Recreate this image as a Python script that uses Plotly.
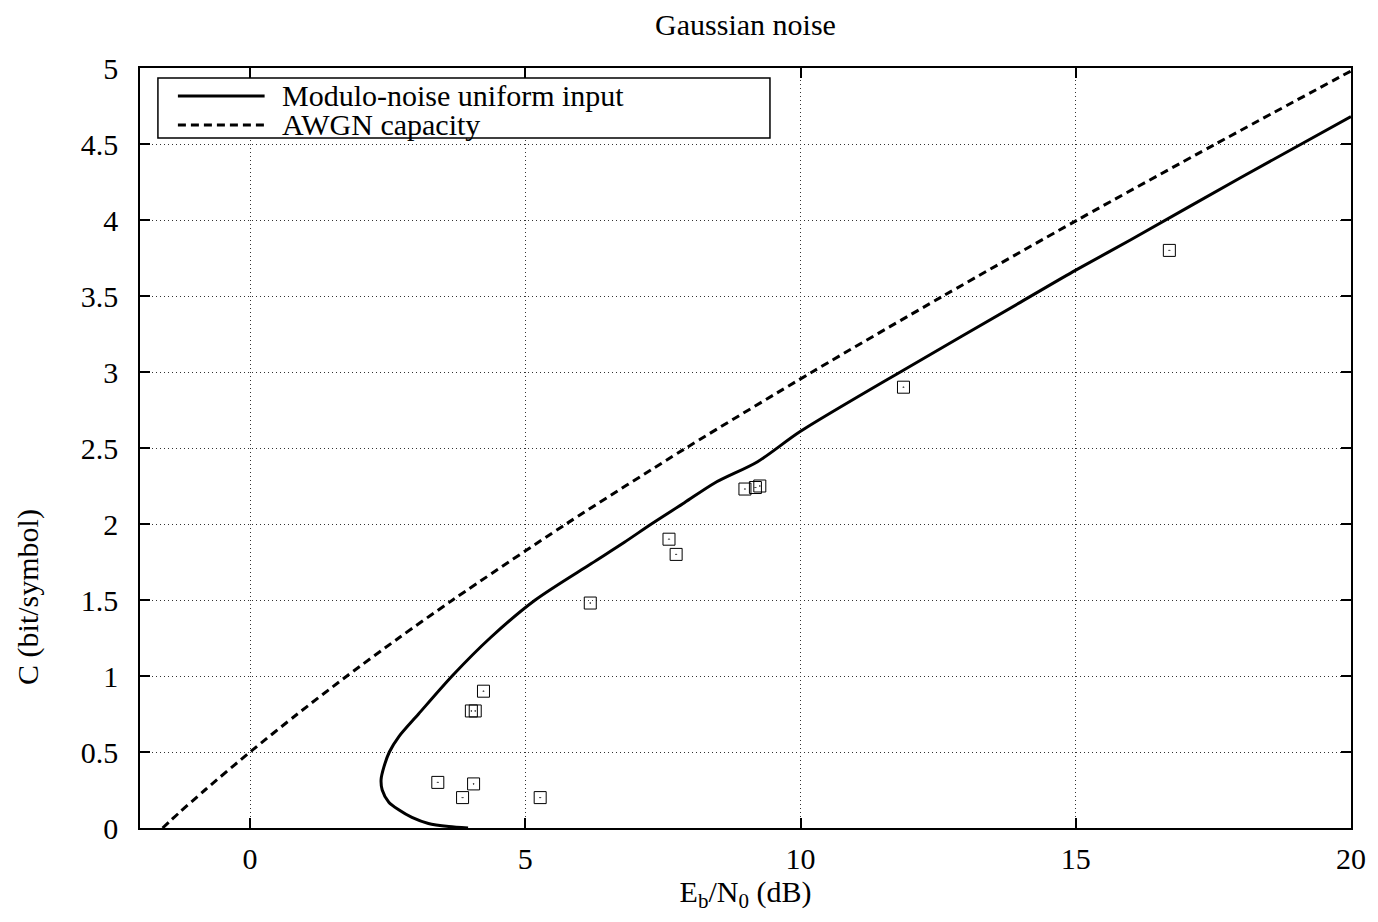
import plotly.graph_objects as go

# Modulo-noise channel with uniform input: Eb/N0 (dB) vs capacity (bit/symbol)
mod_ebn0 = [3.96, 3.61, 3.24, 2.94, 2.70, 2.52, 2.40, 2.38, 2.43, 2.53, 2.70, 3.06,
            3.67, 4.36, 5.18, 6.20, 6.80, 7.29, 7.89, 8.44, 9.22, 10.0, 12.0,
            14.0, 15.0, 16.0, 18.0, 20.0]
mod_cap = [0.0, 0.01, 0.03, 0.07, 0.12, 0.17, 0.25, 0.32, 0.40, 0.50, 0.60, 0.75,
           1.0, 1.25, 1.5, 1.74, 1.88, 2.0, 2.14, 2.27, 2.41, 2.61, 3.04,
           3.46, 3.67, 3.87, 4.28, 4.68]

# AWGN capacity curve
awgn_ebn0 = [-1.59, -1.44, -1.29, -0.82, 0.0, 0.86, 1.76, 2.70, 3.68, 5.74, 7.92,
             10.21, 12.59, 15.03, 17.54, 20.10]
awgn_cap = [0.0, 0.05, 0.10, 0.25, 0.5, 0.75, 1.0, 1.25, 1.5, 2.0, 2.5,
            3.0, 3.5, 4.0, 4.5, 5.0]

# Measured points
pts_ebn0 = [16.70, 11.87, 8.99, 9.18, 9.26, 7.61, 7.74, 6.18, 4.24, 4.02, 4.09,
            3.41, 4.06, 3.86, 5.27]
pts_cap = [3.80, 2.90, 2.23, 2.24, 2.25, 1.90, 1.80, 1.48, 0.90, 0.77, 0.77,
           0.30, 0.29, 0.20, 0.20]

x_ticks = [0, 5, 10, 15, 20]
y_ticks = [0, 0.5, 1, 1.5, 2, 2.5, 3, 3.5, 4, 4.5, 5]

FONT = "Liberation Serif"
FS = 30

fig = go.Figure()
fig.add_trace(go.Scatter(x=mod_ebn0, y=mod_cap, mode="lines",
                         line=dict(color="black", width=3, shape="spline", smoothing=0.8),
                         name="Modulo-noise uniform input", showlegend=False))
fig.add_trace(go.Scatter(x=awgn_ebn0, y=awgn_cap, mode="lines",
                         line=dict(color="black", width=3, dash="8px,5px",
                                   shape="spline", smoothing=0.8),
                         name="AWGN capacity", showlegend=False))
fig.add_trace(go.Scatter(x=pts_ebn0, y=pts_cap, mode="markers",
                         marker=dict(symbol="square-open-dot", size=12, color="black",
                                     line=dict(width=1, color="black")),
                         showlegend=False))

axis_common = dict(showline=True, linecolor="black", linewidth=1.5, mirror="ticks",
                   ticks="inside", ticklen=10, tickwidth=1.5, tickcolor="black",
                   showgrid=True, gridcolor="#333", gridwidth=1, griddash="1px,3px",
                   zeroline=False, tickfont=dict(family=FONT, size=FS, color="black"))

fig.update_xaxes(range=[-2, 20], tickvals=x_ticks, ticklabelstandoff=3,
                 title=dict(text="E<sub>b</sub>/N<sub>0</sub> (dB)",
                            font=dict(family=FONT, size=FS, color="black"), standoff=6),
                 **axis_common)
fig.update_yaxes(range=[0, 5], tickvals=y_ticks, ticklabelstandoff=14, **axis_common)

# Legend box with line samples
lx0, lx1, ly0, ly1 = 0.0148, 0.5202, 0.9079, 0.9868
sx0, sx1 = 0.0313, 0.1029
rows = [(0.9632, "Modulo-noise uniform input", "solid"),
        (0.9250, "AWGN capacity", "8px,5px")]
shapes = [dict(type="rect", xref="paper", yref="paper", x0=lx0, x1=lx1, y0=ly0, y1=ly1,
               line=dict(color="black", width=1.5), fillcolor="white", layer="above")]
annotations = []
for ry, label, dash in rows:
    shapes.append(dict(type="line", xref="paper", yref="paper", x0=sx0, x1=sx1,
                       y0=ry, y1=ry, line=dict(color="black", width=3, dash=dash),
                       layer="above"))
    annotations.append(dict(xref="paper", yref="paper", x=0.116, y=ry, text=label,
                            showarrow=False, xanchor="left", yanchor="middle",
                            font=dict(family=FONT, size=FS, color="black")))

annotations.append(dict(xref="paper", yref="paper", x=-0.0925, y=0.304,
                        text="C (bit/symbol)", textangle=-90, showarrow=False,
                        xanchor="center", yanchor="middle",
                        font=dict(family=FONT, size=FS, color="black")))

fig.update_layout(
    width=1378, height=922,
    margin=dict(l=140, r=23, t=68, b=94),
    paper_bgcolor="white", plot_bgcolor="white",
    title=dict(text="Gaussian noise", x=0.5, xref="paper", y=0.973, yref="container",
               yanchor="middle", font=dict(family=FONT, size=FS, color="black")),
    shapes=shapes, annotations=annotations,
)

fig.write_html("out.html")
